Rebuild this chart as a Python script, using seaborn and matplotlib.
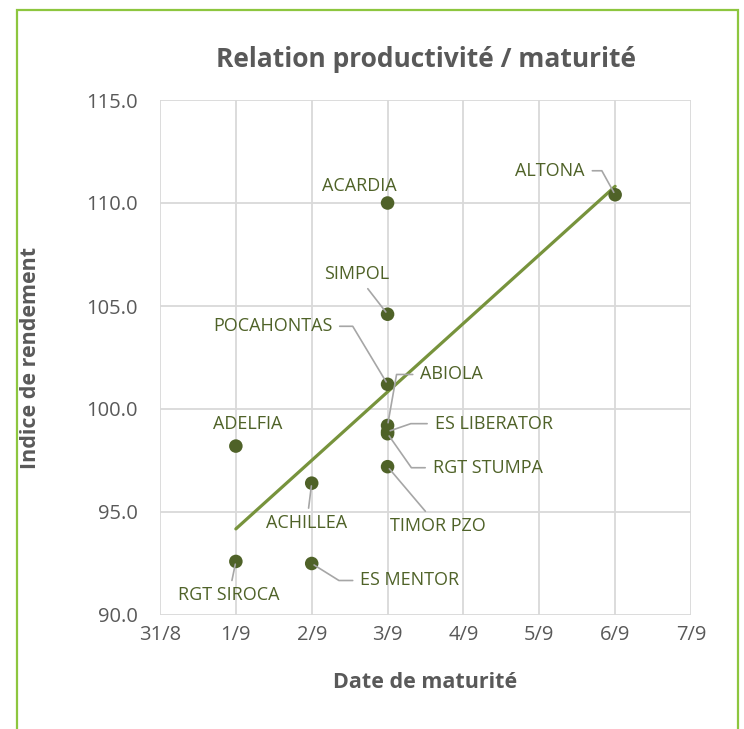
import numpy as np
import pandas as pd
import seaborn as sns
import matplotlib.pyplot as plt
from matplotlib.patches import Rectangle

sns.set_style("whitegrid")
plt.rcParams['font.family'] = ['Open Sans', 'DejaVu Sans']

# data
varietes = ["ACARDIA", "SIMPOL", "POCAHONTAS", "ABIOLA", "ES LIBERATOR", "RGT STUMPA",
            "TIMOR PZO", "ADELFIA", "ACHILLEA", "RGT SIROCA", "ES MENTOR", "ALTONA"]
maturite = ["2021-09-03", "2021-09-03", "2021-09-03", "2021-09-03", "2021-09-03", "2021-09-03",
            "2021-09-03", "2021-09-01", "2021-09-02", "2021-09-01", "2021-09-02", "2021-09-06"]
rendement = [110.0, 104.6, 101.2, 99.2, 98.9, 98.8, 97.2, 98.2, 96.4, 92.6, 92.5, 110.4]
date_ticks = ["31/8", "1/9", "2/9", "3/9", "4/9", "5/9", "6/9", "7/9"]
y_ticks = [90, 95, 100, 105, 110, 115]

# label offsets in pixels (dx, dy) and leader style: None, "straight" or elbow angle at the point
label_pos = {
    "ACARDIA": (-28, 17, None),
    "SIMPOL": (-31, 40, "straight"),
    "POCAHONTAS": (-115, 58, 121),
    "ABIOLA": (64, 51, 80),
    "ES LIBERATOR": (106, 8, 19),
    "RGT STUMPA": (100, -34, -55),
    "TIMOR PZO": (50, -59, "straight"),
    "ADELFIA": (12, 22, None),
    "ACHILLEA": (-5, -40, "straight"),
    "RGT SIROCA": (-7, -34, "straight"),
    "ES MENTOR": (98, -17, -32),
    "ALTONA": (-65, 24, -61),
}

df = pd.DataFrame({"variete": varietes, "date": pd.to_datetime(maturite), "rendement": rendement})
df["jour"] = (df["date"] - pd.Timestamp("2021-08-31")).dt.days

dark = "#4f6228"
grey = "#595959"

fig = plt.figure(figsize=(7.44, 7.29), dpi=100)
ax = fig.add_axes([160 / 744, 1 - 615 / 729, 531 / 744, 515 / 729])

sns.regplot(data=df, x="jour", y="rendement", scatter=False, ci=None, truncate=True,
            color="#77933c", line_kws=dict(lw=2.3), ax=ax)
sns.scatterplot(data=df, x="jour", y="rendement", s=95, color=dark, edgecolor="none",
                ax=ax, zorder=3)

for _, row in df.iterrows():
    dx, dy, leader = label_pos[row["variete"]]
    arrow = None
    if leader == "straight":
        arrow = dict(arrowstyle="-", color="#a6a6a6", lw=1.2, shrinkA=2, shrinkB=2)
    elif leader is not None:
        arrow = dict(arrowstyle="-", color="#a6a6a6", lw=1.2, shrinkA=3, shrinkB=2,
                     connectionstyle=f"angle,angleA=0,angleB={leader},rad=0")
    ax.annotate(row["variete"], (row["jour"], row["rendement"]), xytext=(dx, dy),
                textcoords="offset pixels", ha="center", va="center", fontsize=13,
                color=dark, arrowprops=arrow, zorder=4)

ax.set_xlim(0, 7)
ax.set_ylim(90, 115)
ax.set_xticks(range(len(date_ticks)))
ax.set_xticklabels(date_ticks)
ax.set_yticks(y_ticks)
ax.set_yticklabels([f"{v:.1f}" for v in y_ticks])
ax.tick_params(axis="both", length=0, labelsize=14.5, labelcolor=grey)
ax.tick_params(axis="y", pad=16)
ax.tick_params(axis="x", pad=7)
ax.grid(True, color="#d9d9d9", lw=1.3)
for s in ax.spines.values():
    s.set_visible(False)

ax.set_xlabel("Date de maturité", fontsize=15.5, fontweight="bold", color=grey, va="center")
ax.xaxis.set_label_coords(0.5, -0.132)
ax.set_ylabel("Indice de rendement", fontsize=15.5, fontweight="bold", color=grey, va="center")
ax.yaxis.set_label_coords(-0.243, 0.5)
ax.set_title("Relation productivité / maturité", fontsize=19, fontweight="bold", color=grey, pad=24)

fig.patches.append(Rectangle((17 / 744, -0.01), 721 / 744, 1 - 10 / 729 + 0.01,
                             transform=fig.transFigure, fill=False, edgecolor="#8dc63f", lw=1.6))

fig.savefig("out.png", dpi=100)
